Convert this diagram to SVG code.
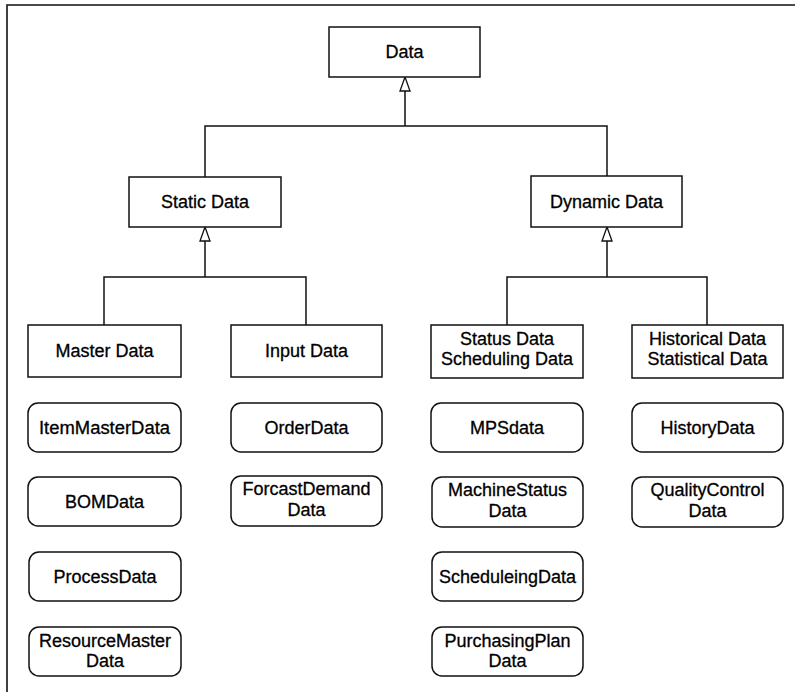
<svg xmlns="http://www.w3.org/2000/svg" width="795" height="692" viewBox="0 0 795 692">
  <style>
    .box { fill: #ffffff; stroke: #111111; stroke-width: 1.5; }
    .lbl { font-family: "Liberation Sans", Arial, sans-serif; font-size: 18px; fill: #000000; stroke: #000000; stroke-width: 0.3; text-anchor: middle; }
    .wire { fill: none; stroke: #111111; stroke-width: 1.5; }
    .frame { fill: none; stroke: #111111; stroke-width: 1.6; }
    .head { fill: #ffffff; stroke: #111111; stroke-width: 1.3; stroke-linejoin: miter; }
  </style>
  <defs>
    <!-- hollow generalisation arrowhead, tip at (0,0) pointing up -->
    <path id="gen" class="head" d="M0,0 L5,14 L-5,14 Z"/>
  </defs>

  <rect width="795" height="692" fill="#ffffff"/>

  <!-- page frame: left and top edges -->
  <path class="frame" d="M7,692 L7,5 L795,5"/>

  <!-- connectors -->
  <g id="connectors">
    <path class="wire" d="M405,91 L405,126 M205,177 L205,126 L607,126 L607,176"/>
    <use href="#gen" x="405" y="77"/>
    <path class="wire" d="M205,241 L205,277 M104,325 L104,277 L306,277 L306,325"/>
    <use href="#gen" x="205" y="227"/>
    <path class="wire" d="M607,241 L607,277 M507,325 L507,277 L707,277 L707,325"/>
    <use href="#gen" x="607" y="227"/>
  </g>

  <!-- class hierarchy -->
  <g id="data">
    <rect class="box" x="329" y="27" width="151" height="50"/>
    <text class="lbl" x="404.5" y="58">Data</text>
  </g>
  <g id="static-data">
    <rect class="box" x="129" y="177" width="152" height="50"/>
    <text class="lbl" x="205" y="208">Static Data</text>
  </g>
  <g id="dynamic-data">
    <rect class="box" x="531" y="176" width="151" height="51"/>
    <text class="lbl" x="606.5" y="208">Dynamic Data</text>
  </g>
  <g id="master-data">
    <rect class="box" x="28" y="325" width="153" height="52"/>
    <text class="lbl" x="104.5" y="357">Master Data</text>
  </g>
  <g id="input-data">
    <rect class="box" x="231" y="325" width="151" height="52"/>
    <text class="lbl" x="306.5" y="357">Input Data</text>
  </g>
  <g id="status-data">
    <rect class="box" x="431" y="325" width="152" height="53"/>
    <text class="lbl" x="507" y="345">Status Data</text>
    <text class="lbl" x="507" y="365">Scheduling Data</text>
  </g>
  <g id="historical-data">
    <rect class="box" x="632" y="325" width="151" height="53"/>
    <text class="lbl" x="707.5" y="345">Historical Data</text>
    <text class="lbl" x="707.5" y="365">Statistical Data</text>
  </g>

  <!-- data items, left column -->
  <g id="item-master-data">
    <rect class="box" x="28" y="403" width="153" height="49" rx="10"/>
    <text class="lbl" x="104.5" y="434" textLength="131" lengthAdjust="spacingAndGlyphs">ItemMasterData</text>
  </g>
  <g id="bom-data">
    <rect class="box" x="28" y="477" width="153" height="49" rx="10"/>
    <text class="lbl" x="104.5" y="508">BOMData</text>
  </g>
  <g id="process-data">
    <rect class="box" x="29" y="552" width="152" height="49" rx="10"/>
    <text class="lbl" x="105" y="583">ProcessData</text>
  </g>
  <g id="resource-master-data">
    <rect class="box" x="29" y="627" width="152" height="49" rx="10"/>
    <text class="lbl" x="105" y="647">ResourceMaster</text>
    <text class="lbl" x="105" y="667">Data</text>
  </g>

  <!-- data items, input column -->
  <g id="order-data">
    <rect class="box" x="231" y="403" width="151" height="49" rx="10"/>
    <text class="lbl" x="306.5" y="434">OrderData</text>
  </g>
  <g id="forcast-demand-data">
    <rect class="box" x="231" y="476" width="151" height="50" rx="10"/>
    <text class="lbl" x="306.5" y="495">ForcastDemand</text>
    <text class="lbl" x="306.5" y="516">Data</text>
  </g>

  <!-- data items, status column -->
  <g id="mps-data">
    <rect class="box" x="431" y="403" width="152" height="49" rx="10"/>
    <text class="lbl" x="507" y="434">MPSdata</text>
  </g>
  <g id="machine-status-data">
    <rect class="box" x="432" y="477" width="151" height="50" rx="10"/>
    <text class="lbl" x="507.5" y="496">MachineStatus</text>
    <text class="lbl" x="507.5" y="517">Data</text>
  </g>
  <g id="scheduleing-data">
    <rect class="box" x="432" y="552" width="151" height="49" rx="10"/>
    <text class="lbl" x="507.5" y="583">ScheduleingData</text>
  </g>
  <g id="purchasing-plan-data">
    <rect class="box" x="432" y="627" width="151" height="49" rx="10"/>
    <text class="lbl" x="507.5" y="647">PurchasingPlan</text>
    <text class="lbl" x="507.5" y="667">Data</text>
  </g>

  <!-- data items, historical column -->
  <g id="history-data">
    <rect class="box" x="632" y="403" width="151" height="49" rx="10"/>
    <text class="lbl" x="707.5" y="434">HistoryData</text>
  </g>
  <g id="quality-control-data">
    <rect class="box" x="632" y="477" width="151" height="50" rx="10"/>
    <text class="lbl" x="707.5" y="496">QualityControl</text>
    <text class="lbl" x="707.5" y="517">Data</text>
  </g>
</svg>
